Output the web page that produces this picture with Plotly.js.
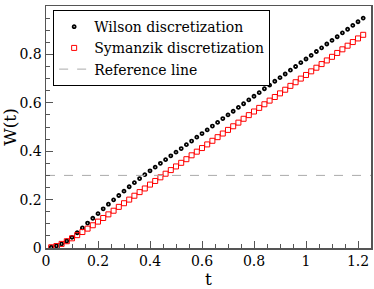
<!DOCTYPE html>
<html>
<head>
<meta charset="utf-8">
<script src="https://cdn.plot.ly/plotly-3.0.1.min.js"></script>
<style>html,body{margin:0;padding:0;background:#fff;}#chart{width:374px;height:289px;}</style>
</head>
<body>
<div id="chart"></div>
<script>
var tValues = [0.02,0.04,0.06,0.08,0.10,0.12,0.14,0.16,0.18,0.20,0.22,0.24,0.26,0.28,0.30,0.32,0.34,0.36,0.38,0.40,
  0.42,0.44,0.46,0.48,0.50,0.52,0.54,0.56,0.58,0.60,0.62,0.64,0.66,0.68,0.70,0.72,0.74,0.76,0.78,0.80,
  0.82,0.84,0.86,0.88,0.90,0.92,0.94,0.96,0.98,1.00,1.02,1.04,1.06,1.08,1.10,1.12,1.14,1.16,1.18,1.20,1.22];
var wilsonW = [0.003,0.009,0.017,0.029,0.044,0.063,0.083,0.103,0.123,0.142,0.162,0.181,0.199,0.217,0.235,0.253,0.270,0.287,0.303,0.319,
  0.334,0.350,0.365,0.381,0.396,0.411,0.427,0.442,0.458,0.473,0.488,0.504,0.519,0.535,0.550,0.565,0.581,0.596,0.612,0.627,
  0.642,0.658,0.673,0.689,0.704,0.719,0.735,0.750,0.766,0.781,0.796,0.812,0.827,0.843,0.858,0.873,0.889,0.904,0.920,0.935,0.950];
var symanzikW = [0.003,0.008,0.017,0.028,0.040,0.053,0.066,0.080,0.094,0.109,0.124,0.139,0.154,0.170,0.185,0.200,0.216,0.231,0.246,0.262,
  0.277,0.292,0.307,0.322,0.337,0.352,0.367,0.383,0.398,0.413,0.428,0.443,0.458,0.473,0.488,0.503,0.518,0.534,0.549,0.564,
  0.579,0.594,0.609,0.624,0.639,0.654,0.670,0.685,0.700,0.715,0.730,0.745,0.760,0.775,0.790,0.806,0.821,0.836,0.851,0.866,0.881];
var refX = [0, 1.25];
var refY = [0.3, 0.3];
var seriesNames = ["Wilson discretization", "Symanzik discretization", "Reference line"];
var xTicks = [0, 0.2, 0.4, 0.6, 0.8, 1, 1.2];
var yTicks = [0, 0.2, 0.4, 0.6, 0.8, 1];

var FONT = "DejaVu Serif";

var traces = [
  {x: tValues, y: wilsonW, name: seriesNames[0], type: "scatter", mode: "markers",
   marker: {symbol: "circle-open", size: 3, color: "#000", line: {width: 1.8, color: "#000"}}},
  {x: tValues, y: symanzikW, name: seriesNames[1], type: "scatter", mode: "markers",
   marker: {symbol: "square-open", size: 5, color: "#ff0000", line: {width: 1, color: "#ff0000"}}},
  {x: refX, y: refY, name: seriesNames[2], type: "scatter", mode: "lines",
   line: {color: "#aaaaaa", width: 1, dash: "dash"}}
];

var layout = {
  width: 374, height: 289,
  margin: {l: 46, r: 3, t: 6, b: 41},
  paper_bgcolor: "#fff", plot_bgcolor: "#fff",
  font: {family: FONT, size: 14, color: "#000"},
  showlegend: true,
  legend: {x: 0.022, y: 0.983, xanchor: "left", yanchor: "top",
    bordercolor: "#000", borderwidth: 1, bgcolor: "#fff",
    font: {family: FONT, size: 14, color: "#000"}, itemwidth: 30},
  xaxis: {range: [0, 1.25], tickvals: xTicks, ticktext: xTicks.map(String),
    showgrid: false, zeroline: false, showline: true, linecolor: "#555", linewidth: 1.5, mirror: true,
    ticks: "inside", ticklen: 7, tickcolor: "#555", tickwidth: 1,
    minor: {dtick: 0.05, ticks: "inside", ticklen: 4, tickcolor: "#555", showgrid: false},
    tickfont: {family: FONT, size: 14, color: "#000"},
    title: {text: "t", font: {family: FONT, size: 17, color: "#000"}, standoff: 4}},
  yaxis: {range: [0, 1], tickvals: yTicks, ticktext: yTicks.map(String),
    showgrid: false, zeroline: false, showline: true, linecolor: "#555", linewidth: 1.5, mirror: true,
    ticks: "inside", ticklen: 7, tickcolor: "#555", tickwidth: 1,
    minor: {dtick: 0.05, ticks: "inside", ticklen: 4, tickcolor: "#555", showgrid: false},
    tickfont: {family: FONT, size: 14, color: "#000"},
    title: {text: "W(t)", font: {family: FONT, size: 17, color: "#000"}, standoff: 4}}
};

Plotly.newPlot("chart", traces, layout, {displayModeBar: false, staticPlot: true});
</script>
</body>
</html>
